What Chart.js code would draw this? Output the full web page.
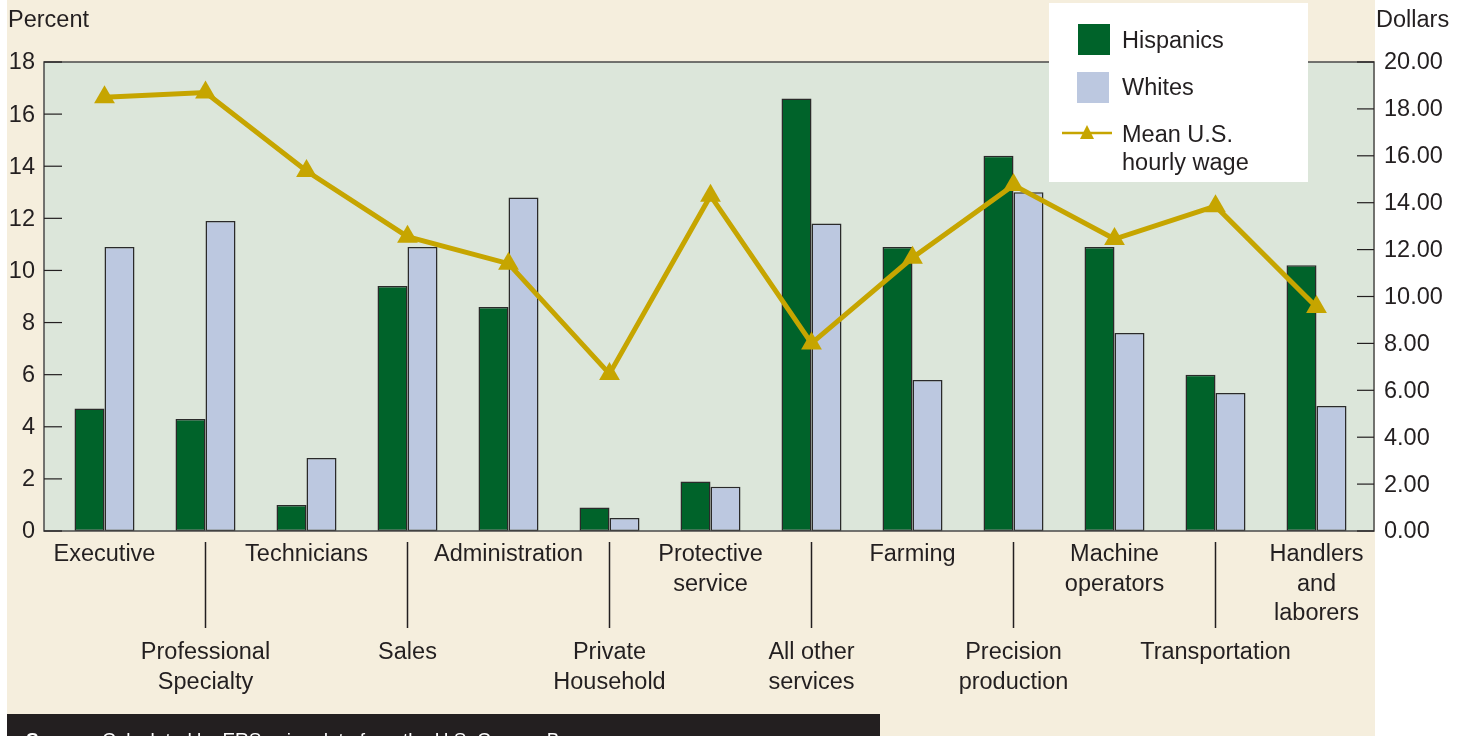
<!DOCTYPE html>
<html>
<head>
<meta charset="utf-8">
<title>Hispanic and White workers by occupation</title>
<script src="https://cdn.jsdelivr.net/npm/chart.js@4.4.1/dist/chart.umd.min.js"></script>
<style>
  html, body { margin: 0; padding: 0; background: #fff; }
  #wrap { position: relative; width: 1463px; height: 736px; }
</style>
</head>
<body>
<div id="wrap"><canvas id="chart"></canvas></div>
<script>
// occupation groups (label lines for the axis)
const categories = [
  ["Executive"], ["Professional", "Specialty"], ["Technicians"], ["Sales"],
  ["Administration"], ["Private", "Household"], ["Protective", "service"],
  ["All other", "services"], ["Farming"], ["Precision", "production"],
  ["Machine", "operators"], ["Transportation"], ["Handlers", "and", "laborers"]
];

// share of workers, percent
const hispanics = [4.7, 4.3, 1.0, 9.4, 8.6, 0.9, 1.9, 16.6, 10.9, 14.4, 10.9, 6.0, 10.2];
const whites    = [10.9, 11.9, 2.8, 10.9, 12.8, 0.5, 1.7, 11.8, 5.8, 13.0, 7.6, 5.3, 4.8];

// mean U.S. hourly wage, dollars
const meanWage = [18.5, 18.7, 15.35, 12.55, 11.4, 6.7, 14.3, 8.0, 11.65, 14.75, 12.45, 13.85, 9.55];

const percentTicks = [0, 2, 4, 6, 8, 10, 12, 14, 16, 18];
const dollarTicks = [0, 2, 4, 6, 8, 10, 12, 14, 16, 18, 20];

const FONT = '"Liberation Sans", Arial, Helvetica, sans-serif';
const INK = "#231F20";
const GREEN = "#00632A";
const BLUE = "#BCC8E0";
const GOLD = "#C6A500";

// frame, axes, labels, legend and source strip
const decorations = {
  id: "decorations",
  beforeDraw(chart) {
    const ctx = chart.ctx;
    const area = chart.chartArea;
    const yL = chart.scales.y;
    const plotL = area.left - 10, plotR = area.right + 7;

    ctx.save();
    ctx.fillStyle = "#F5EEDD";
    ctx.fillRect(7, 0, plotR + 1 - 7, 736);
    ctx.fillStyle = "#DCE6DA";
    ctx.fillRect(plotL, area.top, plotR - plotL, yL.getPixelForValue(0) - area.top);
    ctx.restore();
  },
  afterDraw(chart) {
    const ctx = chart.ctx;
    const area = chart.chartArea;
    const x = chart.scales.x;
    const yL = chart.scales.y;
    const yR = chart.scales.y2;
    const plotL = area.left - 10, plotR = area.right + 7;
    const top = yL.getPixelForValue(18);
    const bottom = yL.getPixelForValue(0);

    ctx.save();
    // frame
    ctx.strokeStyle = "#4a4a4a";
    ctx.lineWidth = 1.5;
    ctx.strokeRect(plotL, top, plotR - plotL, bottom - top);

    // inward tick marks + tick labels
    ctx.fillStyle = INK;
    ctx.font = "23.5px " + FONT;
    ctx.textBaseline = "middle";
    ctx.strokeStyle = INK;
    ctx.lineWidth = 1.2;
    ctx.textAlign = "right";
    percentTicks.forEach(v => {
      const py = yL.getPixelForValue(v);
      ctx.beginPath(); ctx.moveTo(plotL, py); ctx.lineTo(plotL + 18, py); ctx.stroke();
      ctx.fillText(String(v), 35, py + 1);
    });
    ctx.textAlign = "left";
    dollarTicks.forEach(v => {
      const py = yR.getPixelForValue(v);
      ctx.beginPath(); ctx.moveTo(plotR - 17, py); ctx.lineTo(plotR, py); ctx.stroke();
      ctx.fillText(v.toFixed(2), plotR + 10, py + 1);
    });

    // axis titles
    ctx.fillText("Percent", 8, 21);
    ctx.fillText("Dollars", 1376, 21);

    // category labels, alternating rows with separators
    ctx.textAlign = "center";
    categories.forEach((lines, i) => {
      const cx = x.getPixelForValue(i);
      const startY = i % 2 === 0 ? 555 : 653;
      lines.forEach((t, k) => ctx.fillText(t, cx, startY + k * 29.5));
      if (i % 2 === 1) {
        ctx.lineWidth = 1.5;
        ctx.beginPath(); ctx.moveTo(cx, 542); ctx.lineTo(cx, 628); ctx.stroke();
      }
    });

    // legend
    ctx.fillStyle = "#fff";
    ctx.fillRect(1049, 3, 259, 179);
    ctx.fillStyle = GREEN;
    ctx.fillRect(1078, 24, 32, 31);
    ctx.fillStyle = BLUE;
    ctx.fillRect(1077, 72, 32, 31);
    ctx.strokeStyle = GOLD;
    ctx.lineWidth = 2.5;
    ctx.beginPath(); ctx.moveTo(1062, 133); ctx.lineTo(1112, 133); ctx.stroke();
    ctx.fillStyle = GOLD;
    ctx.beginPath(); ctx.moveTo(1087, 125); ctx.lineTo(1094, 139); ctx.lineTo(1080, 139); ctx.closePath(); ctx.fill();
    ctx.fillStyle = INK;
    ctx.textAlign = "left";
    ctx.font = "23.5px " + FONT;
    ctx.fillText("Hispanics", 1122, 42);
    ctx.fillText("Whites", 1122, 89);
    ctx.fillText("Mean U.S.", 1122, 136);
    ctx.fillText("hourly wage", 1122, 164);

    // source strip (cut off at the bottom edge)
    ctx.fillStyle = INK;
    ctx.fillRect(7, 714, 873, 22);
    ctx.fillStyle = "#fff";
    ctx.textBaseline = "top";
    ctx.font = "bold 19px " + FONT;
    ctx.fillText("Source:", 26, 731);
    const w = ctx.measureText("Source: ").width;
    ctx.font = "19px " + FONT;
    ctx.fillText("Calculated by ERS using data from the U.S. Census Bureau.", 26 + w, 731);
    ctx.restore();
  }
};

const ctx = document.getElementById("chart").getContext("2d");
new Chart(ctx, {
  type: "bar",
  data: {
    labels: categories.map(c => c.join(" ")),
    datasets: [
      {
        type: "line",
        label: "Mean U.S. hourly wage",
        data: meanWage,
        yAxisID: "y2",
        borderColor: GOLD,
        backgroundColor: GOLD,
        borderWidth: 5,
        pointStyle: "triangle",
        pointRadius: 12,
        pointBorderWidth: 0,
        tension: 0,
        order: 0
      },
      {
        label: "Hispanics",
        data: hispanics,
        yAxisID: "y",
        backgroundColor: GREEN,
        borderColor: "#2a2a2a",
        borderWidth: 1.5,
        borderSkipped: false,
        order: 1
      },
      {
        label: "Whites",
        data: whites,
        yAxisID: "y",
        backgroundColor: BLUE,
        borderColor: "#2a2a2a",
        borderWidth: 1.5,
        borderSkipped: false,
        order: 1
      }
    ]
  },
  options: {
    responsive: true,
    maintainAspectRatio: false,
    animation: false,
    layout: { padding: { left: 54, right: 96, top: 62, bottom: 205 } },
    datasets: { bar: { barPercentage: 1, categoryPercentage: 0.594 } },
    plugins: {
      legend: { display: false },
      tooltip: { enabled: false }
    },
    scales: {
      x: { display: false, offset: true },
      y: { display: false, min: 0, max: 18 },
      y2: { display: false, min: 0, max: 20, position: "right" }
    }
  },
  plugins: [decorations]
});
</script>
</body>
</html>
